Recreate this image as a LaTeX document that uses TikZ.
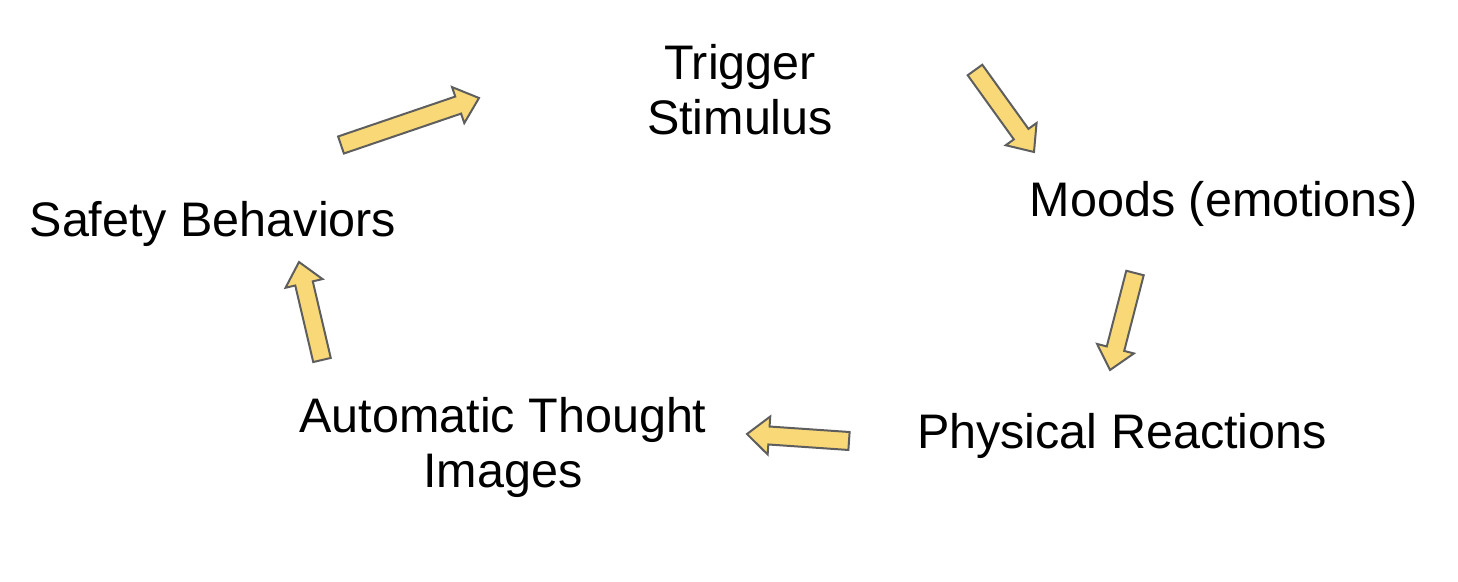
\documentclass[tikz,border=0pt]{standalone}
\usepackage{fontspec}
\setmainfont{Liberation Sans}
\usetikzlibrary{calc}
\definecolor{cyellow}{HTML}{F9D977}
\definecolor{cedge}{HTML}{5E5E5E}

\tikzset{
  stage/.style={font=\fontsize{24.25}{27.5}\selectfont, align=center, anchor=base, inner sep=0pt},
  blockarrow/.style={fill=cyellow, draw=cedge, line width=1pt, line join=miter}
}
% block arrow from tail #1 to tip #2
\newcommand{\blockarrow}[2]{%
  \coordinate (neck) at ($(#2)!11pt!(#1)$);
  \draw[blockarrow] ($(#1)!4.5pt!90:(#2)$) -- ($(neck)!4.5pt!90:(#2)$)
    -- ($(neck)!9.5pt!90:(#2)$) -- (#2) -- ($(neck)!9.5pt!-90:(#2)$)
    -- ($(neck)!4.5pt!-90:(#2)$) -- ($(#1)!4.5pt!-90:(#2)$) -- cycle;}

\begin{document}
\begin{tikzpicture}[x=0.5pt, y=-0.5pt]
  \useasboundingbox (0,0) rectangle (1458,582);
  % stages of the cycle
  \node[stage] (trigger) at (740,135) {Trigger\\Stimulus};
  \node[stage] (moods) at (1224,217) {Moods (emotions)};
  \node[stage] (physical) at (1122,449) {Physical Reactions};
  \node[stage] (thought) at (503,488) {Automatic Thought\\Images};
  \node[stage] (safety) at (213,237) {Safety Behaviors};
  % arrow ends
  \coordinate (safety-out) at (341,145);
  \coordinate (trigger-in) at (479,98);
  \coordinate (trigger-out) at (975,70);
  \coordinate (moods-in) at (1034,152);
  \coordinate (moods-out) at (1135,273);
  \coordinate (physical-in) at (1110,370);
  \coordinate (physical-out) at (849,441);
  \coordinate (thought-in) at (747,434);
  \coordinate (thought-out) at (322,360);
  \coordinate (safety-in) at (299,262);
  \foreach \a/\b in {safety-out/trigger-in, trigger-out/moods-in, moods-out/physical-in,
                     physical-out/thought-in, thought-out/safety-in}
    \blockarrow{\a}{\b};
\end{tikzpicture}
\end{document}
